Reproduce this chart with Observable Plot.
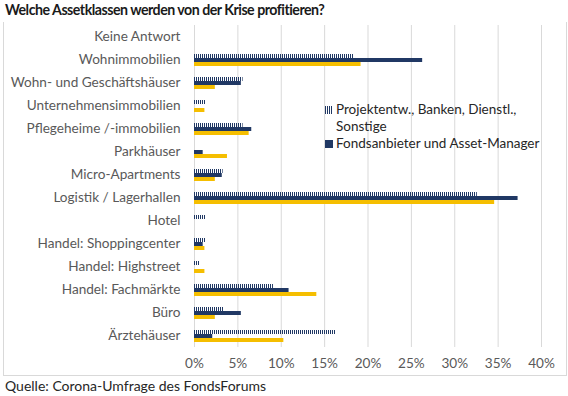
<!DOCTYPE html>
<html>
<head>
<meta charset="utf-8">
<script src="https://cdn.jsdelivr.net/npm/d3@7"></script>
<script src="https://cdn.jsdelivr.net/npm/@observablehq/plot@0.6"></script>
<style>
  html, body { margin: 0; padding: 0; background: #fff; }
  #wrap { position: relative; width: 568px; height: 396px; overflow: hidden; font-family: Lato, "Open Sans", sans-serif; }
  #title { position: absolute; left: 5px; top: 1px; font-weight: bold; font-size: 14.2px; letter-spacing: -0.5px; color: #1a1a1a; white-space: nowrap; }
  #frame { position: absolute; left: 3px; top: 22px; width: 562px; height: 353px; border-left: 1px solid #d9d9d9; border-right: 1px solid #d9d9d9; border-bottom: 1px solid #d9d9d9; }
  #chart { position: absolute; left: 0; top: 22px; }
  #legend { position: absolute; left: 325px; top: 101px; font-size: 13.5px; color: #262626; line-height: 17px; }
  #legend .row { display: flex; align-items: flex-start; }
  #legend .sw { width: 8px; height: 8px; margin-top: 5px; margin-right: 3px; flex: none; }
  #source { position: absolute; left: 5px; top: 377px; font-size: 14px; color: #262626; white-space: nowrap; }
</style>
</head>
<body>
<svg width="0" height="0" style="position:absolute">
  <defs>
    <pattern id="hatch" width="2" height="4" patternUnits="userSpaceOnUse">
      <rect x="0" y="0" width="1" height="4" fill="#203864"></rect>
    </pattern>
  </defs>
</svg>
<div id="wrap">
  <div id="title">Welche Assetklassen werden von der Krise profitieren?</div>
  <div id="frame"></div>
  <div id="chart"></div>
  <div id="legend">
    <div class="row"><svg class="sw" width="8" height="8"><rect width="8" height="8" fill="url(#hatch)"></rect></svg><div>Projektentw., Banken, Dienstl.,<br>Sonstige</div></div>
    <div class="row"><div class="sw" style="background:#203864"></div><div>Fondsanbieter und Asset-Manager</div></div>
  </div>
  <div id="source">Quelle: Corona-Umfrage des FondsForums</div>
</div>
<script>
const categories = ["Keine Antwort","Wohnimmobilien","Wohn- und Geschäftshäuser","Unternehmensimmobilien","Pflegeheime /-immobilien","Parkhäuser","Micro-Apartments","Logistik / Lagerhallen","Hotel","Handel: Shoppingcenter","Handel: Highstreet","Handel: Fachmärkte","Büro","Ärztehäuser"];
const seriesNames = ["Projektentw., Banken, Dienstl., Sonstige", "Fondsanbieter und Asset-Manager", "Weitere Teilnehmer"];
const projektentw = [0, 18.4, 5.6, 1.3, 5.6, 0, 3.3, 32.6, 1.3, 1.3, 0.6, 9.1, 3.4, 16.3];
const fondsanbieter = [0, 26.3, 5.4, 0, 6.6, 1.0, 3.2, 37.3, 0, 1.0, 0, 10.9, 5.4, 2.1];
const weitere = [0, 19.2, 2.4, 1.2, 6.3, 3.8, 2.4, 34.6, 0, 1.2, 1.2, 14.1, 2.4, 10.3];
const xTicks = [0, 5, 10, 15, 20, 25, 30, 35, 40];

const seriesValues = [projektentw, fondsanbieter, weitere];
const fills = ["url(#hatch)", "#203864", "#f5be00"];
const data = [];
seriesValues.forEach((vals, si) => {
  categories.forEach((c, ci) => data.push({category: c, series: seriesNames[si], value: vals[ci]}));
});

const plot = Plot.plot({
  width: 568,
  height: 353,
  marginLeft: 194,
  marginRight: 27,
  marginTop: 2,
  marginBottom: 28,
  style: {fontFamily: "Lato, 'Open Sans', sans-serif", fontSize: "13.6px", color: "#595959", background: "transparent"},
  x: {domain: [0, 40], ticks: xTicks, tickFormat: d => d + "%", tickSize: 0, tickPadding: 11, label: null},
  y: {domain: seriesNames, axis: null, paddingInner: 0, paddingOuter: 1},
  fy: {domain: categories, padding: 0, label: null, tickSize: 0, tickPadding: 14},
  marks: [
    Plot.ruleX(xTicks, {stroke: "#d9d9d9", strokeWidth: 1}),
    ...seriesNames.map((s, i) => Plot.barX(data.filter(d => d.series === s), {x: "value", y: "series", fy: "category", fill: fills[i]}))
  ]
});
document.getElementById("chart").appendChild(plot);
</script>
</body>
</html>
